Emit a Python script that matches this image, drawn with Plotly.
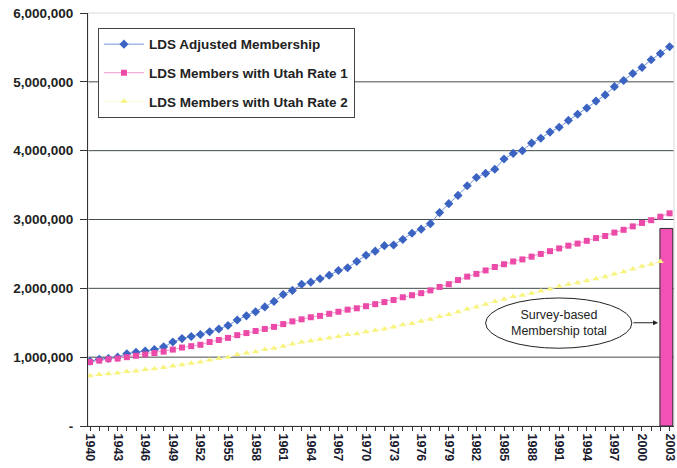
import plotly.graph_objects as go

years = list(range(1940, 2004))

lds_adjusted = [
    0.94, 0.97, 0.98, 1.00, 1.05, 1.07, 1.09, 1.11, 1.15, 1.22,
    1.27, 1.30, 1.33, 1.37, 1.41, 1.46, 1.54, 1.60, 1.66, 1.73,
    1.81, 1.91, 1.97, 2.06, 2.09, 2.14, 2.19, 2.26, 2.30, 2.39,
    2.48, 2.54, 2.62, 2.63, 2.71, 2.80, 2.86, 2.94, 3.10, 3.23,
    3.35, 3.49, 3.61, 3.67, 3.73, 3.88, 3.96, 4.00, 4.11, 4.18,
    4.27, 4.34, 4.44, 4.53, 4.62, 4.72, 4.81, 4.93, 5.02, 5.12,
    5.21, 5.32, 5.41, 5.51,
]
utah_rate_1 = [
    0.93, 0.95, 0.97, 0.98, 1.00, 1.02, 1.04, 1.06, 1.08, 1.11,
    1.14, 1.16, 1.18, 1.22, 1.25, 1.28, 1.32, 1.35, 1.38, 1.41,
    1.44, 1.48, 1.52, 1.55, 1.58, 1.60, 1.63, 1.66, 1.69, 1.71,
    1.74, 1.77, 1.80, 1.83, 1.87, 1.90, 1.93, 1.97, 2.02, 2.06,
    2.12, 2.17, 2.21, 2.26, 2.31, 2.35, 2.39, 2.42, 2.46, 2.50,
    2.54, 2.58, 2.62, 2.65, 2.69, 2.73, 2.76, 2.81, 2.85, 2.90,
    2.95, 2.99, 3.04, 3.09,
]
utah_rate_2 = [
    0.73, 0.75, 0.76, 0.77, 0.79, 0.80, 0.82, 0.83, 0.85, 0.87,
    0.89, 0.91, 0.93, 0.96, 0.98, 1.00, 1.04, 1.06, 1.08, 1.11,
    1.13, 1.16, 1.19, 1.22, 1.24, 1.26, 1.28, 1.30, 1.33, 1.34,
    1.37, 1.39, 1.41, 1.44, 1.47, 1.49, 1.52, 1.55, 1.59, 1.62,
    1.66, 1.70, 1.73, 1.77, 1.81, 1.84, 1.88, 1.90, 1.93, 1.96,
    1.99, 2.03, 2.06, 2.08, 2.11, 2.14, 2.17, 2.21, 2.24, 2.28,
    2.32, 2.35, 2.39,
]
survey_year = [2003]
survey_total = [2.87]

y_tick_vals = [0, 1e6, 2e6, 3e6, 4e6, 5e6, 6e6]
y_tick_text = ["-", "1,000,000", "2,000,000", "3,000,000", "4,000,000", "5,000,000", "6,000,000"]

M = 1e6
BOLD = dict(family="Liberation Sans, Arial, sans-serif", weight="bold")

fig = go.Figure()

fig.add_trace(go.Bar(
    x=survey_year, y=[v * M for v in survey_total],
    width=[1.4], offset=[-1.05],
    marker=dict(color="#f252b6", line=dict(color="#2e2e2e", width=1)),
    showlegend=False, hoverinfo="skip",
))

fig.add_trace(go.Scatter(
    x=years, y=[v * M for v in lds_adjusted], mode="lines+markers",
    name="LDS Adjusted Membership", legendgroup="a",
    line=dict(color="#7096dc", width=1),
    marker=dict(symbol="diamond", size=7, color="#3b63c2"),
))
fig.add_trace(go.Scatter(
    x=years, y=[v * M for v in utah_rate_1], mode="lines+markers",
    name="LDS Members with Utah Rate 1", legendgroup="b",
    line=dict(color="#f59bd0", width=1),
    marker=dict(symbol="square", size=6, color="#ec4aa8"),
))
fig.add_trace(go.Scatter(
    x=years[:len(utah_rate_2)], y=[v * M for v in utah_rate_2], mode="lines+markers",
    name="LDS Members with Utah Rate 2", legendgroup="c",
    line=dict(color="#fbfad0", width=1),
    marker=dict(symbol="triangle-up", size=6, color="#f7f37c"),
))

shapes = []
for v in y_tick_vals[1:-1]:
    shapes.append(dict(type="line", xref="paper", x0=0, x1=1, yref="y", y0=v, y1=v,
                       line=dict(color="#434d4b", width=1), layer="below"))
shapes.append(dict(type="rect", xref="paper", yref="paper", x0=0, x1=1, y0=0, y1=1,
                   line=dict(color="#dcdcdc", width=1), layer="below"))
shapes.append(dict(type="circle", xref="x", yref="y", x0=1983.0, x1=1998.9,
                   y0=1.13 * M, y1=1.86 * M,
                   line=dict(color="#222222", width=1), fillcolor="white", layer="above"))

fig.update_layout(
    width=677, height=468,
    margin=dict(l=88, r=3, t=13, b=42),
    paper_bgcolor="white", plot_bgcolor="white",
    font=dict(family="Liberation Sans, Arial, sans-serif", color="#222222"),
    shapes=shapes,
    showlegend=True,
    legend=dict(
        x=0.017, y=0.964, xanchor="left", yanchor="top",
        bordercolor="#444444", borderwidth=1, bgcolor="white",
        font=dict(size=13.5, color="#222222", **BOLD),
        tracegroupgap=8, itemwidth=40,
    ),
    annotations=[
        dict(text="Survey-based<br>Membership total", x=1990.95, y=1.50 * M,
             xref="x", yref="y", showarrow=False,
             font=dict(size=12.5, color="#222222", family="Liberation Sans, Arial")),
        dict(text="", x=2001.75, y=1.50 * M, ax=1998.9, ay=1.50 * M,
             xref="x", yref="y", axref="x", ayref="y",
             showarrow=True, arrowhead=2, arrowsize=1, arrowwidth=1, arrowcolor="#222222"),
    ],
)

fig.update_xaxes(
    range=[1939.78, 2003.48], tick0=1940, dtick=3, tickangle=90,
    ticks="outside", ticklen=4, tickcolor="#333333",
    minor=dict(dtick=1, ticks="outside", ticklen=4, tickcolor="#333333"),
    showline=True, linecolor="#333333", linewidth=1, showgrid=False, zeroline=False,
    automargin=False,
    tickfont=dict(size=12.5, color="#1c1c30", **BOLD),
)
fig.update_yaxes(
    range=[0, 6e6], tickvals=y_tick_vals, ticktext=y_tick_text,
    ticks="outside", ticklen=7, tickcolor="#333333", ticklabelstandoff=4,
    showline=True, linecolor="#333333", linewidth=1, showgrid=False, zeroline=False,
    automargin=False,
    tickfont=dict(size=13.5, color="#222222", **BOLD),
)

fig.write_html("out.html", config={"displayModeBar": False},
               post_script="document.body.style.margin='0px';")
